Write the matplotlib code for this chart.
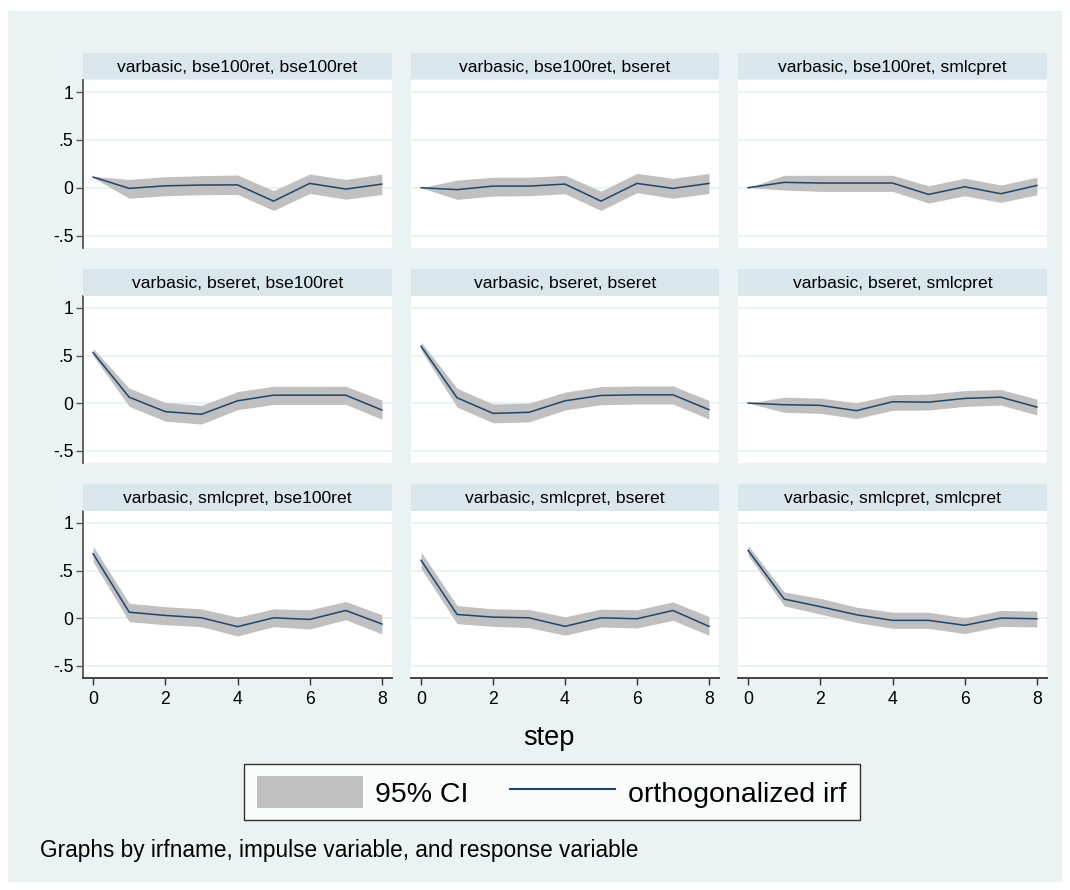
import matplotlib
matplotlib.use("Agg")
import matplotlib.pyplot as plt
from matplotlib.patches import Patch, Rectangle
from matplotlib.lines import Line2D

plt.rcParams['font.family'] = ['Liberation Sans', 'DejaVu Sans']

W, H = 1070, 890

# ---------------- data ----------------
steps = [0, 1, 2, 3, 4, 5, 6, 7, 8]
impulses = ["bse100ret", "bseret", "smlcpret"]
responses = ["bse100ret", "bseret", "smlcpret"]
irfname = "varbasic"

# impulse bse100ret
irf_b100_b100 = [0.112, -0.007, 0.020, 0.028, 0.030, -0.140, 0.045, -0.014, 0.038]
lo_b100_b100 = [0.105, -0.110, -0.084, -0.073, -0.070, -0.238, -0.060, -0.120, -0.070]
hi_b100_b100 = [0.119, 0.087, 0.115, 0.126, 0.133, -0.030, 0.143, 0.087, 0.143]

irf_b100_bse = [0.000, -0.020, 0.017, 0.017, 0.038, -0.140, 0.045, -0.007, 0.045]
lo_b100_bse = [0.000, -0.122, -0.087, -0.084, -0.063, -0.238, -0.052, -0.110, -0.060]
hi_b100_bse = [0.000, 0.080, 0.110, 0.110, 0.130, -0.035, 0.150, 0.098, 0.150]

irf_b100_sml = [0.000, 0.056, 0.049, 0.049, 0.049, -0.070, 0.010, -0.063, 0.024]
lo_b100_sml = [0.000, -0.024, -0.038, -0.038, -0.038, -0.160, -0.084, -0.154, -0.073]
hi_b100_sml = [0.000, 0.130, 0.130, 0.130, 0.130, 0.020, 0.100, 0.028, 0.110]

# impulse bseret
irf_bse_b100 = [0.531, 0.062, -0.090, -0.118, 0.024, 0.083, 0.083, 0.083, -0.073]
lo_bse_b100 = [0.497, -0.035, -0.190, -0.220, -0.070, -0.014, -0.014, -0.014, -0.170]
hi_bse_b100 = [0.573, 0.156, 0.007, -0.024, 0.120, 0.177, 0.177, 0.177, 0.031]

irf_bse_bse = [0.597, 0.056, -0.108, -0.097, 0.024, 0.080, 0.087, 0.087, -0.069]
lo_bse_bse = [0.556, -0.042, -0.208, -0.198, -0.073, -0.017, -0.010, -0.010, -0.167]
hi_bse_bse = [0.642, 0.156, -0.010, 0.000, 0.115, 0.174, 0.180, 0.180, 0.028]

irf_bse_sml = [0.000, -0.017, -0.024, -0.080, 0.014, 0.010, 0.049, 0.062, -0.042]
lo_bse_sml = [0.000, -0.097, -0.108, -0.163, -0.076, -0.073, -0.035, -0.021, -0.125]
hi_bse_sml = [0.000, 0.062, 0.052, 0.003, 0.087, 0.094, 0.132, 0.142, 0.042]

# impulse smlcpret
irf_sml_b100 = [0.677, 0.062, 0.028, 0.003, -0.090, 0.003, -0.014, 0.080, -0.062]
lo_sml_b100 = [0.594, -0.038, -0.070, -0.090, -0.188, -0.090, -0.115, -0.017, -0.167]
hi_sml_b100 = [0.757, 0.156, 0.120, 0.097, 0.010, 0.097, 0.087, 0.174, 0.035]

irf_sml_bse = [0.608, 0.038, 0.010, 0.003, -0.087, 0.003, -0.007, 0.080, -0.087]
lo_sml_bse = [0.521, -0.059, -0.087, -0.100, -0.180, -0.094, -0.104, -0.024, -0.180]
hi_sml_bse = [0.694, 0.132, 0.097, 0.090, 0.014, 0.094, 0.087, 0.170, 0.017]

irf_sml_sml = [0.712, 0.200, 0.120, 0.035, -0.024, -0.024, -0.076, 0.000, -0.007]
lo_sml_sml = [0.660, 0.128, 0.042, -0.045, -0.108, -0.108, -0.163, -0.087, -0.094]
hi_sml_sml = [0.764, 0.274, 0.208, 0.115, 0.062, 0.062, 0.003, 0.080, 0.073]

ytick_vals = [-0.5, 0, 0.5, 1]
ytick_labels = ["-.5", "0", ".5", "1"]
xtick_vals = [0, 2, 4, 6, 8]
xtick_labels = ["0", "2", "4", "6", "8"]

panels = [
    [(irf_b100_b100, lo_b100_b100, hi_b100_b100),
     (irf_b100_bse, lo_b100_bse, hi_b100_bse),
     (irf_b100_sml, lo_b100_sml, hi_b100_sml)],
    [(irf_bse_b100, lo_bse_b100, hi_bse_b100),
     (irf_bse_bse, lo_bse_bse, hi_bse_bse),
     (irf_bse_sml, lo_bse_sml, hi_bse_sml)],
    [(irf_sml_b100, lo_sml_b100, hi_sml_b100),
     (irf_sml_bse, lo_sml_bse, hi_sml_bse),
     (irf_sml_sml, lo_sml_sml, hi_sml_sml)],
]

# ---------------- style ----------------
BG = '#eaf2f3'
STRIP = '#d9e6eb'
GRID = '#eaf2f3'
LINE = '#1a476f'
CI = '#c0c0c0'
AXC = '#555555'

def rect(x0, y0, x1, y1):
    return [x0 / W, 1 - y1 / H, (x1 - x0) / W, (y1 - y0) / H]

fig = plt.figure(figsize=(W / 100, H / 100), dpi=100)
fig.patch.set_facecolor('white')
fig.patches.append(Rectangle((8 / W, 1 - 882 / H), (1062 - 8) / W, (882 - 11) / H,
                             transform=fig.transFigure, facecolor=BG,
                             edgecolor='none', zorder=-10))

cols = [(83, 392), (411, 719), (738, 1047)]
rows_plot = [(80, 248), (296, 463), (511, 678)]
rows_strip = [(53, 79), (269, 296), (484, 511)]

for i in range(3):
    for j in range(3):
        x0, x1 = cols[j]
        y0, y1 = rows_plot[i]
        ax = fig.add_axes(rect(x0, y0, x1, y1))
        ax.set_facecolor('white')
        irf, lo, hi = panels[i][j]
        ax.fill_between(steps, lo, hi, color=CI, lw=0, zorder=2)
        ax.plot(steps, irf, color=LINE, lw=1.1, zorder=3)
        ax.set_xlim(-0.28, 8.28)
        ax.set_ylim(-0.63, 1.126)
        ax.set_yticks(ytick_vals)
        ax.set_xticks(xtick_vals)
        ax.yaxis.grid(True, color=GRID, lw=1.4, zorder=1)
        ax.set_axisbelow(True)
        for s in ax.spines.values():
            s.set_visible(False)
        if j == 0:
            ax.spines['left'].set_visible(True)
            ax.spines['left'].set_color(AXC)
            ax.spines['left'].set_linewidth(1.3)
            ax.set_yticklabels(ytick_labels)
            ax.tick_params(axis='y', length=5, width=1, color=AXC,
                           labelsize=12.7, pad=2)
        else:
            ax.tick_params(axis='y', left=False, labelleft=False)
        if i == 2:
            ax.spines['bottom'].set_visible(True)
            ax.spines['bottom'].set_color('#333333')
            ax.spines['bottom'].set_linewidth(1.3)
            ax.set_xticklabels(xtick_labels)
            ax.tick_params(axis='x', length=5, width=1, color='#333333',
                           labelsize=12.7, pad=4)
        else:
            ax.tick_params(axis='x', bottom=False, labelbottom=False)

        sy0, sy1 = rows_strip[i]
        sax = fig.add_axes(rect(x0, sy0, x1, sy1))
        sax.set_facecolor(STRIP)
        sax.set_xticks([])
        sax.set_yticks([])
        for s in sax.spines.values():
            s.set_visible(False)
        sax.text(0.5, 0.45, f"{irfname}, {impulses[i]}, {responses[j]}",
                 ha='center', va='center', fontsize=12.6, transform=sax.transAxes)

fig.text(549 / W, 1 - 738 / H, "step", ha='center', va='center', fontsize=19.5)

handles = [Patch(facecolor=CI, edgecolor='none', label='95% CI'),
           Line2D([0], [0], color=LINE, lw=1.5, label='orthogonalized irf')]
leg = fig.legend(handles=handles, loc='center',
                 bbox_to_anchor=(552 / W, 1 - 792 / H), ncol=2,
                 frameon=True, fancybox=False, edgecolor='black',
                 fontsize=20.5, handlelength=3.7, handleheight=1.3,
                 columnspacing=1.45, handletextpad=0.45, borderpad=0.45)
leg.get_frame().set_linewidth(1.0)
leg.get_frame().set_facecolor('white')

fig.text(40 / W, 1 - 850 / H,
         "Graphs by irfname, impulse variable, and response variable",
         ha='left', va='center', fontsize=16.3)

fig.savefig("out.png", dpi=100, facecolor=fig.get_facecolor())
